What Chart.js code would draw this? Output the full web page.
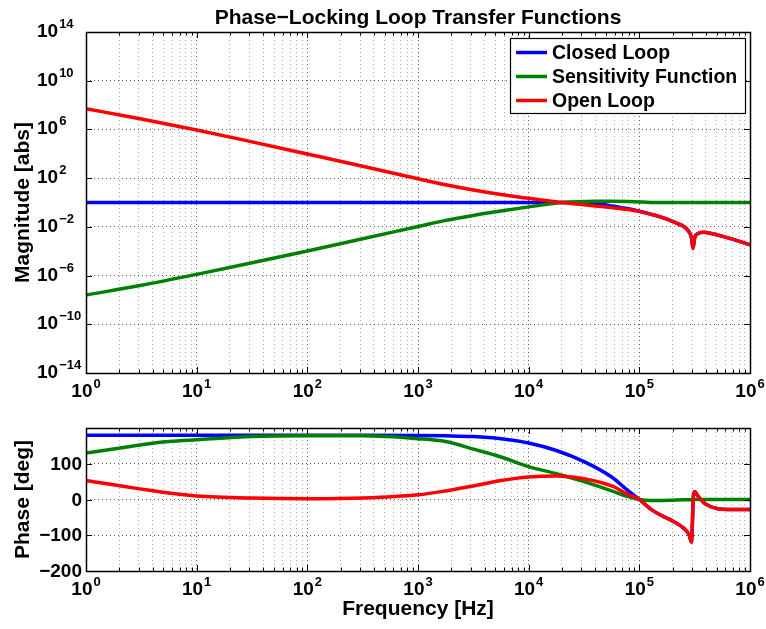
<!DOCTYPE html>
<html><head><meta charset="utf-8">
<script src="https://cdn.jsdelivr.net/npm/chart.js@4"></script>
<style>
html,body{margin:0;padding:0;background:#fff;}
#wrap{position:relative;width:766px;height:629px;overflow:hidden;}
canvas{position:absolute;left:0;}
</style></head><body>
<div id="wrap">
<canvas id="mag" width="766" height="405" style="top:0px"></canvas>
<canvas id="phase" width="766" height="224" style="top:405px"></canvas>
</div>
<script>
// ---------------- data ----------------
const seriesNames = ['Closed Loop', 'Sensitivity Function', 'Open Loop'];
const seriesColors = ['#0000ff', '#008000', '#ff0000'];

const magFreq = [1, 3.162, 10, 31.62, 100, 316.2, 1000, 1778, 3162, 5623, 10000, 14125, 19498, 25119, 31623, 39811, 56234, 79433, 100000, 125893, 177828, 223872, 251189, 275423, 295121, 305492, 316228, 338844, 380189, 446684, 630957, 1000000];
const closedMag = [1, 1, 1, 1, 1, 1, 1, 1, 1, 1, 1, 1, 1, 0.99, 0.955, 0.85, 0.525, 0.302, 0.19, 0.112, 0.0437, 0.0178, 0.011, 0.005, 0.00141, 0.00017, 0.00126, 0.00282, 0.00355, 0.00282, 0.00126, 0.000339];
const sensMag = [2.51e-8, 1.58e-7, 1.26e-6, 1.12e-5, 1.05e-4, 1.05e-3, 0.0107, 0.0339, 0.0871, 0.2, 0.437, 0.676, 1.0, 1.12, 1.2, 1.26, 1.26, 1.2, 1.1, 1.02, 1, 1, 1, 1, 1, 1, 1, 1, 1, 1, 1, 1];
const openMag = [5.01e7, 7.24e6, 9.12e5, 9.55e4, 9550, 955, 89.1, 28.2, 10.5, 4.47, 2.19, 1.45, 1.0, 0.794, 0.646, 0.525, 0.380, 0.263, 0.186, 0.112, 0.0437, 0.0178, 0.011, 0.005, 0.00141, 0.00017, 0.00126, 0.00282, 0.00355, 0.00282, 0.00126, 0.000339];

const phaseFreq = [1, 1.778, 3.162, 5.623, 10, 31.62, 100, 316.2, 1000, 1778, 3162, 5623, 10000, 17783, 31623, 56234, 79433, 100000, 125893, 158489, 199526, 251189, 281838, 295801, 309030, 318420, 331131, 354813, 398107, 501187, 630957, 1000000];
const closedPhase = [180, 180, 180, 180, 180, 180, 180, 180, 179, 178, 176, 170, 158, 137, 106, 63, 24, 0, -26, -45, -60, -80, -99, -119, 15, 22, 14, 2, -13, -25, -28, -28];
const sensPhase = [130, 141, 153, 162, 167, 176, 178, 178, 170, 162, 141, 119, 92, 72, 50, 24, 8, 0, -3, -3, -2, -1, -1, -1, 0, 0, 0, 0, 0, 0, 0, 0];
const openPhase = [53, 41, 29, 18, 10, 4, 2, 4, 13, 24, 38, 53, 63, 66, 58, 38, 14, 0, -26, -45, -60, -80, -99, -119, 15, 22, 14, 2, -13, -25, -28, -28];

const freqTickExps = [0, 1, 2, 3, 4, 5, 6];
const magTickExps = [-14, -10, -6, -2, 2, 6, 10, 14];
const phaseTicks = [-200, -100, 0, 100, 200];
const phaseTickLabels = ['\u2212200', '\u2212100', '0', '100', ''];

const titleText = 'Phase\u2212Locking Loop Transfer Functions';
const magLabel = 'Magnitude [abs]';
const phaseLabel = 'Phase [deg]';
const freqLabel = 'Frequency [Hz]';

// ---------------- helpers ----------------
const FONT = '"Liberation Sans", Arial, Helvetica, sans-serif';
function supStr(e) { return (e < 0 ? '\u2212' : '') + Math.abs(e); }

function xTickList() {
  const t = [];
  for (let e = freqTickExps[0]; e < freqTickExps[freqTickExps.length - 1]; e++) {
    for (let k = 1; k <= 9; k++) t.push({ value: k * Math.pow(10, e), major: k === 1 });
  }
  t.push({ value: Math.pow(10, freqTickExps[freqTickExps.length - 1]), major: true });
  return t;
}

function gridColor(c) { return (c.tick && c.tick.major) ? 'rgba(60,60,60,0.85)' : 'rgba(120,120,120,0.6)'; }

function mkDataset(i, xs, ys) {
  return {
    label: seriesNames[i],
    data: xs.map((x, j) => ({ x: x, y: ys[j] })),
    borderColor: seriesColors[i],
    backgroundColor: seriesColors[i],
    borderWidth: 3.5,
    pointRadius: 0,
    cubicInterpolationMode: 'monotone',
    fill: false,
    order: 2 - i
  };
}

function drawXLabels(ctx, xs, baseY) {
  ctx.fillStyle = '#000';
  ctx.textBaseline = 'alphabetic';
  ctx.textAlign = 'left';
  freqTickExps.forEach(e => {
    const px = xs.getPixelForValue(Math.pow(10, e));
    ctx.font = 'bold 19px ' + FONT;
    const w10 = ctx.measureText('10').width;
    ctx.font = 'bold 13px ' + FONT;
    const we = ctx.measureText(supStr(e)).width;
    const start = px - (w10 + 1 + we) / 2;
    ctx.font = 'bold 19px ' + FONT;
    ctx.fillText('10', start, baseY);
    ctx.font = 'bold 13px ' + FONT;
    ctx.fillText(supStr(e), start + w10 + 1, baseY - 9);
  });
}

function drawFrame(chart, isMag) {
  const ctx = chart.ctx;
  const a = chart.chartArea;
  const xs = chart.scales.x, ys = chart.scales.y;
  ctx.save();
  ctx.strokeStyle = '#000';
  ctx.lineWidth = 1;
  xs.ticks.forEach(t => {
    const px = Math.round(xs.getPixelForValue(t.value)) + 0.5;
    const len = t.major ? 6 : 3.5;
    ctx.beginPath();
    ctx.moveTo(px, a.bottom); ctx.lineTo(px, a.bottom - len);
    ctx.moveTo(px, a.top); ctx.lineTo(px, a.top + len);
    ctx.stroke();
  });
  ys.ticks.forEach(t => {
    const py = Math.round(ys.getPixelForValue(t.value)) + 0.5;
    ctx.beginPath();
    ctx.moveTo(a.left, py); ctx.lineTo(a.left + 6, py);
    ctx.moveTo(a.right, py); ctx.lineTo(a.right - 6, py);
    ctx.stroke();
  });
  ctx.lineWidth = 1.5;
  ctx.strokeRect(Math.round(a.left) + 0.5, Math.round(a.top) + 0.5, Math.round(a.right - a.left), Math.round(a.bottom - a.top));

  ctx.fillStyle = '#000';
  if (isMag) {
    ctx.font = 'bold 21px ' + FONT;
    ctx.textAlign = 'center';
    ctx.textBaseline = 'alphabetic';
    ctx.fillText(titleText, (a.left + a.right) / 2, 24);
    magTickExps.forEach(e => {
      const py = ys.getPixelForValue(Math.pow(10, e));
      ctx.textAlign = 'left';
      ctx.font = 'bold 19px ' + FONT;
      ctx.fillText('10', 37, py + 5);
      const w10 = ctx.measureText('10').width;
      ctx.font = 'bold 13px ' + FONT;
      ctx.fillText(supStr(e), 37 + w10 + 1, py - 4);
    });
    drawXLabels(ctx, xs, a.bottom + 24);
    ctx.save();
    ctx.translate(29, (a.top + a.bottom) / 2);
    ctx.rotate(-Math.PI / 2);
    ctx.font = 'bold 21px ' + FONT;
    ctx.textAlign = 'center';
    ctx.fillText(magLabel, 0, 0);
    ctx.restore();
    const lx = 510, ly = 38, lw = 235, lh = 75;
    ctx.fillStyle = '#fff';
    ctx.fillRect(lx, ly, lw, lh);
    ctx.strokeStyle = '#000';
    ctx.lineWidth = 1.2;
    ctx.strokeRect(lx + 0.5, ly + 0.5, lw, lh);
    const rows = [52.5, 76.5, 100.5];
    seriesNames.forEach((n, i) => {
      ctx.strokeStyle = seriesColors[i];
      ctx.lineWidth = 3.5;
      ctx.beginPath();
      ctx.moveTo(516, rows[i]); ctx.lineTo(547, rows[i]);
      ctx.stroke();
      ctx.fillStyle = '#000';
      ctx.font = 'bold 19.5px ' + FONT;
      ctx.textAlign = 'left';
      ctx.textBaseline = 'middle';
      ctx.fillText(n, 552, rows[i] + 1);
    });
  } else {
    ctx.font = 'bold 19px ' + FONT;
    ctx.textAlign = 'right';
    ctx.textBaseline = 'middle';
    phaseTicks.forEach((v, i) => {
      const py = ys.getPixelForValue(v);
      if (phaseTickLabels[i]) ctx.fillText(phaseTickLabels[i], 82, py + 1);
    });
    drawXLabels(ctx, xs, a.bottom + 24);
    ctx.textBaseline = 'alphabetic';
    ctx.font = 'bold 21px ' + FONT;
    ctx.textAlign = 'center';
    ctx.fillText(freqLabel, (a.left + a.right) / 2, 210);
    ctx.save();
    ctx.translate(29, (a.top + a.bottom) / 2);
    ctx.rotate(-Math.PI / 2);
    ctx.fillText(phaseLabel, 0, 0);
    ctx.restore();
  }
  ctx.restore();
}

const commonPlugins = { legend: { display: false }, title: { display: false }, tooltip: { enabled: false } };

function xScale() {
  return {
    type: 'logarithmic', min: 1, max: 1e6,
    afterBuildTicks: s => { s.ticks = xTickList(); },
    ticks: { display: false },
    grid: { color: gridColor, lineWidth: 1, drawTicks: false },
    border: { display: false, dash: [1, 3] }
  };
}

const xMag = xScale();
xMag.afterFit = s => { s.height = 32; };
new Chart(document.getElementById('mag'), {
  type: 'line',
  data: { datasets: [mkDataset(0, magFreq, closedMag), mkDataset(1, magFreq, sensMag), mkDataset(2, magFreq, openMag)] },
  options: {
    responsive: false, animation: false, events: [],
    layout: { padding: { left: 0, right: 16, top: 32, bottom: 0 } },
    plugins: commonPlugins,
    scales: {
      x: xMag,
      y: {
        type: 'logarithmic', min: 1e-14, max: 1e14,
        afterBuildTicks: s => { s.ticks = magTickExps.map(e => ({ value: Math.pow(10, e), major: true })); },
        afterFit: s => { s.width = 86; },
        ticks: { display: false },
        grid: { color: 'rgba(60,60,60,0.85)', lineWidth: 1, drawTicks: false },
        border: { display: false, dash: [1, 3] }
      }
    }
  },
  plugins: [{ id: 'frameMag', afterDraw: c => drawFrame(c, true) }]
});

const xPh = xScale();
xPh.afterFit = s => { s.height = 58; };
new Chart(document.getElementById('phase'), {
  type: 'line',
  data: { datasets: [mkDataset(0, phaseFreq, closedPhase), mkDataset(1, phaseFreq, sensPhase), mkDataset(2, phaseFreq, openPhase)] },
  options: {
    responsive: false, animation: false, events: [],
    layout: { padding: { left: 0, right: 16, top: 23, bottom: 0 } },
    plugins: commonPlugins,
    scales: {
      x: xPh,
      y: {
        type: 'linear', min: -200, max: 200,
        afterBuildTicks: s => { s.ticks = phaseTicks.map(v => ({ value: v, major: true })); },
        afterFit: s => { s.width = 86; },
        ticks: { display: false },
        grid: { color: 'rgba(60,60,60,0.85)', lineWidth: 1, drawTicks: false },
        border: { display: false, dash: [1, 3] }
      }
    }
  },
  plugins: [{ id: 'framePh', afterDraw: c => drawFrame(c, false) }]
});
</script>
</body></html>
